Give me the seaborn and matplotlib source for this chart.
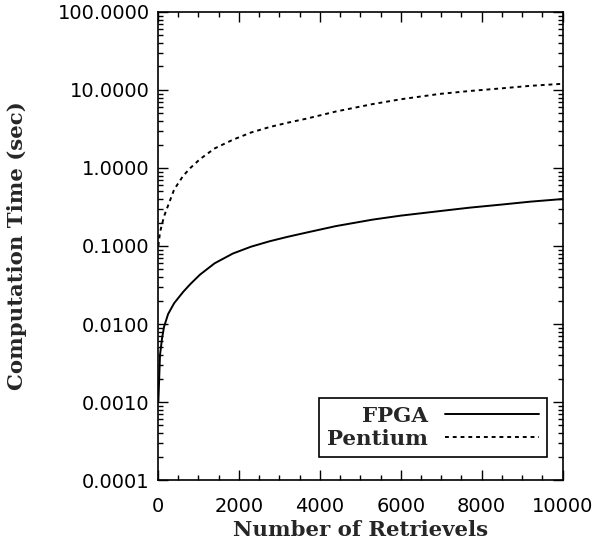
import pandas as pd
import matplotlib
matplotlib.use("Agg")
import matplotlib.pyplot as plt
import matplotlib.ticker as mticker
import seaborn as sns

# values
retrievals = [10, 50, 100, 150, 250, 400, 620, 800, 1040, 1400, 1850, 2300, 2760,
              3200, 3680, 4400, 5310, 6000, 6960, 7700, 8500, 9200, 10000]
fpga_time = [0.001, 0.004, 0.0065, 0.0092, 0.0134, 0.0185, 0.0257, 0.0325, 0.043, 0.060,
             0.080, 0.098, 0.115, 0.131, 0.149, 0.180, 0.218, 0.245, 0.280, 0.310,
             0.340, 0.370, 0.400]
pentium_time = [0.10, 0.15, 0.19, 0.24, 0.33, 0.53, 0.79, 1.0, 1.3, 1.78, 2.3, 2.85, 3.35,
                3.8, 4.3, 5.3, 6.6, 7.6, 8.9, 9.7, 10.5, 11.3, 12.0]
series_names = ["FPGA", "Pentium"]

df = pd.DataFrame({
    "N": retrievals * 2,
    "time": fpga_time + pentium_time,
    "proc": [series_names[0]] * len(retrievals) + [series_names[1]] * len(retrievals),
})

sns.set_style("ticks")
plt.rcParams["font.family"] = ["DejaVu Sans"]

fig = plt.figure(figsize=(5.95, 5.44), dpi=100)
ax = fig.add_axes([0.2655, 0.1176, 0.6800, 0.8604])

sns.lineplot(data=df, x="N", y="time", style="proc", color="black",
             dashes={"FPGA": "", "Pentium": (2, 2)}, linewidth=1.4, ax=ax)

ax.set_yscale("log")
ax.set_xlim(0, 10000)
ax.set_ylim(0.0001, 100)
ax.set_xticks([0, 2000, 4000, 6000, 8000, 10000])
ax.xaxis.set_minor_locator(mticker.MultipleLocator(500))
ax.yaxis.set_major_locator(mticker.LogLocator(base=10, numticks=10))
ax.yaxis.set_minor_locator(mticker.LogLocator(base=10, subs=range(2, 10), numticks=20))
ax.yaxis.set_minor_formatter(mticker.NullFormatter())
ax.yaxis.set_major_formatter(mticker.FuncFormatter(lambda v, p: f"{v:.4f}"))

ax.tick_params(which="both", direction="in", top=True, right=True, colors="black")
ax.tick_params(which="major", length=7, width=1, labelsize=14)
ax.tick_params(which="minor", length=3.5, width=1)
ax.tick_params(axis="x", which="major", pad=12)
ax.tick_params(axis="y", which="major", pad=6)
for s in ax.spines.values():
    s.set_linewidth(1.2)
    s.set_color("black")

ax.set_xlabel("Number of Retrievels", family="DejaVu Serif", fontweight="bold", fontsize=15.3)
ax.set_ylabel("Computation Time (sec)", family="DejaVu Serif", fontweight="bold", fontsize=15.3)
ax.yaxis.set_label_coords(-0.323, 0.5)
ax.xaxis.set_label_coords(0.5, -0.085)

leg = ax.legend(loc="lower right", bbox_to_anchor=(0.962, 0.049), borderaxespad=0,
                markerfirst=False, frameon=True, fancybox=False, edgecolor="black",
                framealpha=1, handlelength=4.4, borderpad=0.38, labelspacing=0.15,
                handletextpad=0.8,
                prop={"family": "DejaVu Serif", "weight": "bold", "size": 15.4})
leg.get_frame().set_linewidth(1.2)
for line in leg.get_lines():
    line.set_linewidth(1.4)

fig.savefig("out.png", dpi=100)
